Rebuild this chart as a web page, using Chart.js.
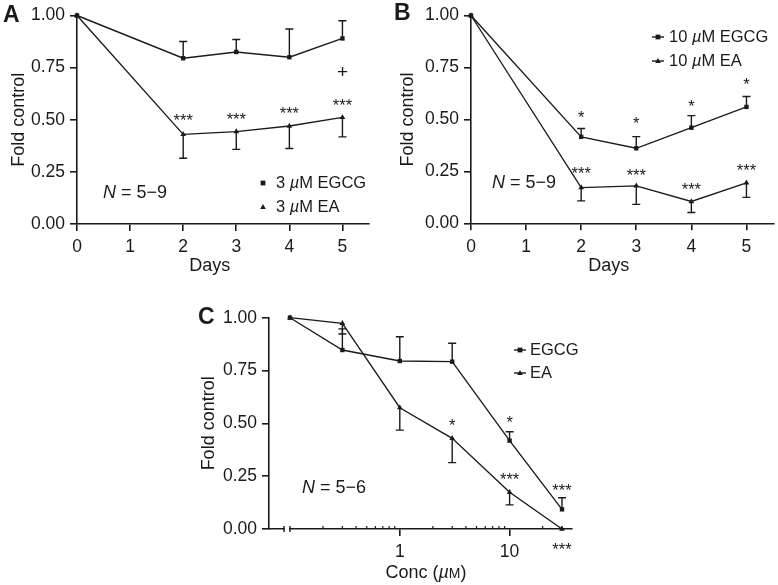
<!DOCTYPE html>
<html><head><meta charset="utf-8">
<script src="https://cdn.jsdelivr.net/npm/chart.js@4.4.1/dist/chart.umd.min.js"></script>
<style>
html,body{margin:0;padding:0;background:#fff;width:778px;height:585px;overflow:hidden;}
canvas{position:absolute;}
</style></head><body>
<canvas id="cA" width="390" height="275" style="left:0;top:0"></canvas>
<canvas id="cB" width="388" height="275" style="left:390px;top:0"></canvas>
<canvas id="cC" width="400" height="310" style="left:190px;top:275px"></canvas>
<script>
// ---------- data ----------
const days = [0, 2, 3, 4, 5];
const dayTicks = [0, 1, 2, 3, 4, 5];
const yTicks = [0, 0.25, 0.5, 0.75, 1.0];

// Panel A (3 uM)
const egcgA = [1.00, 0.795, 0.825, 0.80, 0.89];
const egcgAErr = [0, 0.08, 0.06, 0.135, 0.085];
const eaA = [1.00, 0.43, 0.443, 0.47, 0.511];
const eaAErr = [0, 0.115, 0.085, 0.108, 0.093];
const sigAText = ['***', '***', '***', '***', '+'];
const sigAX = [2, 3, 4, 5, 5];
const sigAY = [0.510, 0.515, 0.543, 0.582, 0.724];

// Panel B (10 uM)
const egcgB = [1.00, 0.416, 0.361, 0.46, 0.56];
const egcgBErr = [0, 0.04, 0.056, 0.058, 0.05];
const eaB = [1.00, 0.172, 0.18, 0.105, 0.195];
const eaBErr = [0, 0.064, 0.089, 0.053, 0.07];
const sigBText = ['*', '*', '*', '*', '***', '***', '***', '***'];
const sigBX = [2, 3, 4, 5, 2, 3, 4, 5];
const sigBY = [0.523, 0.491, 0.577, 0.68, 0.254, 0.242, 0.177, 0.267];

// Panel C (concentration)
const conc = [0.1, 0.3, 1, 3, 10, 30];
const concTicks = [1, 10];
const concMinor = [0.2, 0.3, 0.4, 0.5, 0.6, 0.7, 0.8, 0.9, 2, 3, 4, 5, 6, 7, 8, 9, 20, 30];
const egcgC = [1.00, 0.847, 0.795, 0.792, 0.418, 0.093];
const egcgCErr = [0, 0.10, 0.115, 0.087, 0.042, 0.055];
const eaC = [1.00, 0.973, 0.574, 0.429, 0.174, 0.0];
const eaCErr = [0, 0.05, 0.106, 0.115, 0.06, 0];
const sigCText = ['*', '*', '***', '***', '***'];
const sigCX = [3, 10, 10, 30, 30];
const sigCY = [0.502, 0.516, 0.248, 0.193, -0.084];

// ---------- style ----------
const FONT = '"Liberation Sans", Arial, Helvetica, sans-serif';
const INK = '#1a1a1a';
const TICK = 17.5;

function mixedWidth(ctx, parts, size) {
  let w = 0;
  parts.forEach(([t, it, sc]) => {
    ctx.font = (it ? 'italic ' : '') + (sc ? Math.round(size * 0.78) : size) + 'px ' + FONT;
    w += ctx.measureText(t).width;
  });
  return w;
}
function drawMixed(ctx, parts, x, y, size) {
  let cx = x;
  ctx.textAlign = 'left';
  parts.forEach(([t, it, sc]) => {
    ctx.font = (it ? 'italic ' : '') + (sc ? Math.round(size * 0.78) : size) + 'px ' + FONT;
    ctx.fillText(t, cx, y);
    cx += ctx.measureText(t).width;
  });
}
function marker(ctx, style, x, y) {
  ctx.beginPath();
  if (style === 'rect') {
    ctx.rect(x - 2.4, y - 2.4, 4.8, 4.8);
  } else {
    ctx.moveTo(x, y - 3); ctx.lineTo(x + 2.8, y + 2); ctx.lineTo(x - 2.8, y + 2); ctx.closePath();
  }
  ctx.fill();
}

const extra = {};

const overlay = {
  id: 'overlay',
  beforeDatasetsDraw(chart) {
    const ctx = chart.ctx, xs = chart.scales.x, ys = chart.scales.y;
    ctx.save();
    ctx.strokeStyle = INK; ctx.lineWidth = 1.4;
    chart.data.datasets.forEach(d => {
      d.data.forEach((p, i) => {
        const e = d.err[i]; if (!e) return;
        const px = xs.getPixelForValue(p.x);
        const y0 = ys.getPixelForValue(p.y), y1 = ys.getPixelForValue(p.y + d.dir * e);
        ctx.beginPath();
        ctx.moveTo(px, y0); ctx.lineTo(px, y1);
        ctx.moveTo(px - 4, y1); ctx.lineTo(px + 4, y1);
        ctx.stroke();
      });
    });
    ctx.restore();
  },
  afterDraw(chart) {
    const cfg = extra[chart.canvas.id];
    const ctx = chart.ctx, xs = chart.scales.x, ys = chart.scales.y;
    ctx.save();
    ctx.fillStyle = INK; ctx.strokeStyle = INK;
    // significance marks
    cfg.notes.text.forEach((t, i) => {
      const px = xs.getPixelForValue(cfg.notes.x[i]);
      let py = ys.getPixelForValue(cfg.notes.y[i]);
      const size = t === '+' ? 19 : 16.5;
      if (t !== '+') py += 0.22 * size;
      ctx.font = size + 'px ' + FONT;
      ctx.textAlign = 'center'; ctx.textBaseline = 'middle';
      ctx.fillText(t, px, py);
    });
    // legend
    ctx.textBaseline = 'middle';
    cfg.legend.items.forEach((it, i) => {
      const y = cfg.legend.y[i];
      ctx.lineWidth = 1.4;
      if (cfg.legend.line) {
        ctx.beginPath(); ctx.moveTo(cfg.legend.mx - 6, y); ctx.lineTo(cfg.legend.mx + 6, y); ctx.stroke();
      }
      marker(ctx, it.style, cfg.legend.mx, y);
      drawMixed(ctx, it.parts, cfg.legend.tx, y, 16.5);
    });
    // N text
    drawMixed(ctx, [['N', true], [' = 5\u2212' + cfg.nMax, false]], cfg.n.x, cfg.n.y, 18);
    // panel letter
    ctx.font = 'bold 23px ' + FONT; ctx.textAlign = 'left'; ctx.textBaseline = 'middle';
    ctx.fillText(cfg.letter.t, cfg.letter.x, cfg.letter.y);
    // y title
    ctx.save();
    ctx.translate(cfg.ytitle.x, (ys.top + ys.bottom) / 2);
    ctx.rotate(-Math.PI / 2);
    ctx.font = '18px ' + FONT; ctx.textAlign = 'center'; ctx.textBaseline = 'middle';
    ctx.fillText('Fold control', 0, 0);
    ctx.restore();
    // x title
    const cx = (xs.getPixelForValue(cfg.xtitle.from) + xs.getPixelForValue(cfg.xtitle.to)) / 2;
    const w = mixedWidth(ctx, cfg.xtitle.parts, 18);
    ctx.textBaseline = 'alphabetic';
    drawMixed(ctx, cfg.xtitle.parts, cx - w / 2, cfg.xtitle.y, 18);
    // log axis minor ticks and break (panel C)
    if (cfg.minor) {
      const by = ys.getPixelForValue(0);
      ctx.lineWidth = 1.2;
      cfg.minor.forEach(v => {
        const px = xs.getPixelForValue(v);
        ctx.beginPath(); ctx.moveTo(px, by); ctx.lineTo(px, by - 3); ctx.stroke();
      });
      const b0 = xs.left + 15, b1 = xs.getPixelForValue(conc[0]);
      ctx.fillStyle = '#fff';
      ctx.fillRect(b0 + 1, by - 2, b1 - b0 - 2, 4);
      ctx.fillStyle = INK;
      ctx.lineWidth = 1.4;
      [b0, b1].forEach(px => { ctx.beginPath(); ctx.moveTo(px, by - 3); ctx.lineTo(px, by + 3); ctx.stroke(); });
    }
    ctx.restore();
  }
};

function series(label, xv, yv, err, dir, style) {
  return {
    label, data: xv.map((x, i) => ({ x, y: yv[i] })), err, dir,
    borderColor: INK, backgroundColor: INK, borderWidth: 1.35,
    pointStyle: style, pointRadius: style === 'rect' ? 3.1 : 3.3, pointBorderWidth: 0,
    pointBackgroundColor: INK, tension: 0, clip: false
  };
}

function axisCommon(tl) {
  return {
    border: { color: INK, width: 1.6 },
    grid: { drawOnChartArea: false, drawTicks: true, tickLength: tl, color: INK, lineWidth: 1.6 },
  };
}

function makeChart(id, c) {
  extra[id] = c.extra;
  const xBase = axisCommon(7);
  const yBase = axisCommon(7);
  return new Chart(document.getElementById(id), {
    type: 'line',
    data: { datasets: c.datasets },
    options: {
      responsive: false, animation: false, devicePixelRatio: 1, events: [],
      layout: { padding: c.pad },
      plugins: { legend: { display: false }, tooltip: { enabled: false } },
      scales: {
        x: Object.assign(xBase, c.x, {
          afterFit: s => { s.height = c.xh; },
          ticks: Object.assign({ color: INK, font: { family: FONT, size: TICK }, padding: 6, maxRotation: 0, autoSkip: false }, c.xticks || {})
        }),
        y: Object.assign(yBase, {
          type: 'linear', min: 0, max: 1,
          afterBuildTicks: s => { s.ticks = yTicks.map(v => ({ value: v })); },
          afterFit: s => { s.width = c.yw; },
          ticks: { color: INK, font: { family: FONT, size: TICK }, padding: 5, callback: v => Number(v).toFixed(2) }
        })
      }
    },
    plugins: [overlay]
  });
}

// Panel A
makeChart('cA', {
  pad: { left: 0, right: 21, top: 12, bottom: 0 }, yw: 77, xh: 51,
  x: { type: 'linear', min: 0, max: 5.5, afterBuildTicks: s => { s.ticks = dayTicks.map(v => ({ value: v })); } },
  datasets: [
    series('3 \u00b5M EGCG', days, egcgA, egcgAErr, 1, 'rect'),
    series('3 \u00b5M EA', days, eaA, eaAErr, -1, 'triangle')
  ],
  extra: {
    notes: { text: sigAText, x: sigAX, y: sigAY },
    legend: { line: false, mx: 263, tx: 276, y: [183, 207], items: [
      { style: 'rect', parts: [['3 ', false], ['\u00b5', true], ['M EGCG', false]] },
      { style: 'tri', parts: [['3 ', false], ['\u00b5', true], ['M EA', false]] }] },
    n: { x: 103, y: 193 }, nMax: '9',
    letter: { t: 'A', x: 3, y: 16 },
    ytitle: { x: 19 },
    xtitle: { from: 0, to: 5, y: 271, parts: [['Days', false]] }
  }
});

// Panel B
makeChart('cB', {
  pad: { left: 0, right: 1.3, top: 11, bottom: 0 }, yw: 81, xh: 51.7,
  x: { type: 'linear', min: 0, max: 5.5, afterBuildTicks: s => { s.ticks = dayTicks.map(v => ({ value: v })); } },
  datasets: [
    series('10 \u00b5M EGCG', days, egcgB, egcgBErr, 1, 'rect'),
    series('10 \u00b5M EA', days, eaB, eaBErr, -1, 'triangle')
  ],
  extra: {
    notes: { text: sigBText, x: sigBX, y: sigBY },
    legend: { line: true, mx: 268, tx: 279, y: [37, 61], items: [
      { style: 'rect', parts: [['10 ', false], ['\u00b5', true], ['M EGCG', false]] },
      { style: 'tri', parts: [['10 ', false], ['\u00b5', true], ['M EA', false]] }] },
    n: { x: 102, y: 183 }, nMax: '9',
    letter: { t: 'B', x: 4, y: 14 },
    ytitle: { x: 18 },
    xtitle: { from: 0, to: 5, y: 271, parts: [['Days', false]] }
  }
});

// Panel C
makeChart('cC', {
  pad: { left: 0, right: 18, top: 42.7, bottom: 0 }, yw: 79, xh: 56,
  x: { type: 'logarithmic', min: 0.0644, max: 37, afterBuildTicks: s => { s.ticks = concTicks.map(v => ({ value: v })); } },
  xticks: { callback: v => String(v), padding: 6 },
  datasets: [
    series('EGCG', conc, egcgC, egcgCErr, 1, 'rect'),
    series('EA', conc, eaC, eaCErr, -1, 'triangle')
  ],
  extra: {
    notes: { text: sigCText, x: sigCX, y: sigCY },
    legend: { line: true, mx: 330, tx: 340, y: [75, 98], items: [
      { style: 'rect', parts: [['EGCG', false]] },
      { style: 'tri', parts: [['EA', false]] }] },
    n: { x: 112, y: 213 }, nMax: '6',
    letter: { t: 'C', x: 8, y: 43 },
    ytitle: { x: 19 },
    minor: concMinor,
    xtitle: { from: 0.1, to: 30, y: 303, parts: [['Conc (', false], ['\u00b5', true], ['M', false, true], [')', false]] }
  }
});
</script>
</body></html>
